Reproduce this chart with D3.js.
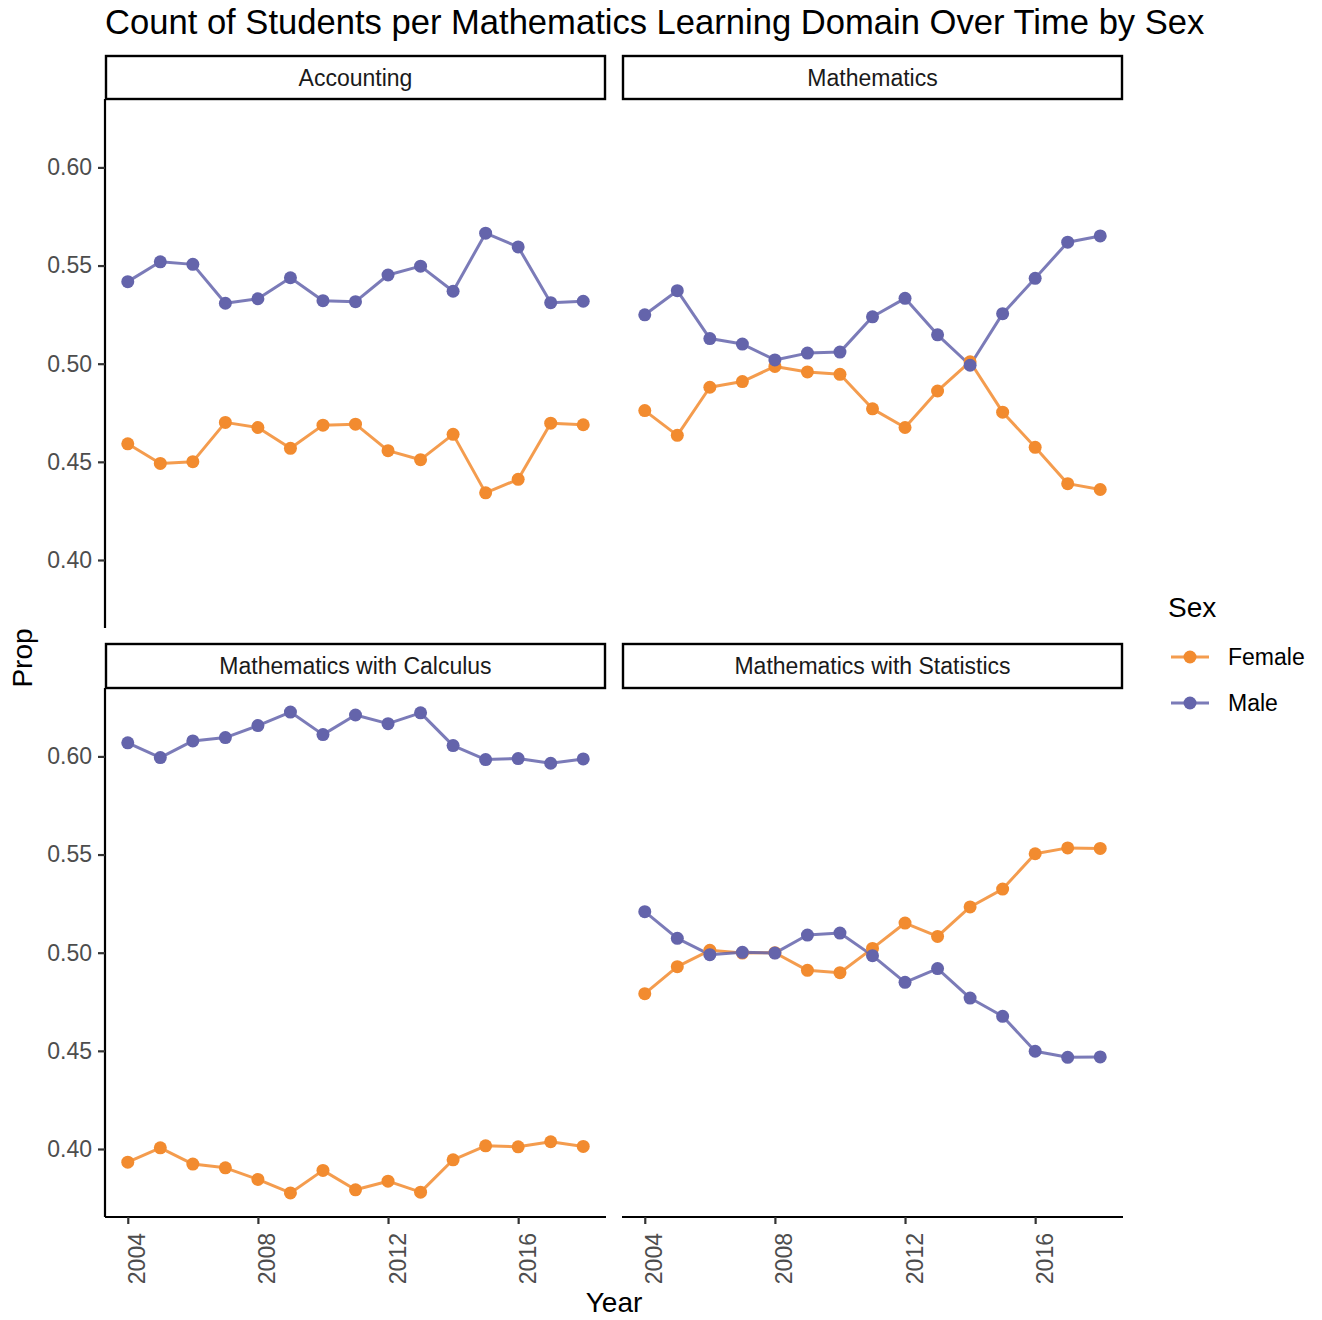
<!DOCTYPE html>
<html>
<head>
<meta charset="utf-8">
<script src="https://cdn.jsdelivr.net/npm/d3@7"></script>
<style>
  html, body { margin: 0; padding: 0; background: #ffffff; }
  svg { display: block; font-family: "Liberation Sans", Arial, Helvetica, sans-serif; }
  .axis path.domain { stroke: #000; stroke-width: 2.2px; }
  .axis .tick line { stroke: #333333; stroke-width: 2.2px; }
  .axis .tick text { fill: #4d4d4d; font-size: 23px; font-family: "Liberation Sans", Arial, sans-serif; }
</style>
</head>
<body>
<div id="chart"></div>
<script>
// ---------------- data ----------------
const years = [2004, 2005, 2006, 2007, 2008, 2009, 2010, 2011, 2012, 2013, 2014, 2015, 2016, 2017, 2018];
const domains = ["Accounting", "Mathematics", "Mathematics with Calculus", "Mathematics with Statistics"];
const sexes = ["Female", "Male"];

const accountingFemale = [0.4592, 0.4492, 0.4501, 0.4701, 0.4675, 0.4569, 0.4687, 0.4692, 0.4557, 0.4511, 0.4640, 0.4342, 0.4411, 0.4697, 0.4689];
const accountingMale   = [0.5418, 0.5519, 0.5506, 0.5308, 0.5331, 0.5438, 0.5321, 0.5316, 0.5452, 0.5497, 0.5369, 0.5665, 0.5595, 0.5311, 0.5318];

const mathematicsFemale = [0.4761, 0.4635, 0.4880, 0.4909, 0.4986, 0.4958, 0.4946, 0.4770, 0.4675, 0.4861, 0.5010, 0.4753, 0.4574, 0.4389, 0.4359];
const mathematicsMale   = [0.5249, 0.5372, 0.5128, 0.5100, 0.5019, 0.5054, 0.5059, 0.5239, 0.5333, 0.5147, 0.4992, 0.5255, 0.5435, 0.5619, 0.5651];

const calculusFemale = [0.3933, 0.4006, 0.3923, 0.3904, 0.3845, 0.3776, 0.3891, 0.3792, 0.3836, 0.3780, 0.3945, 0.4016, 0.4011, 0.4037, 0.4013];
const calculusMale   = [0.6069, 0.5994, 0.6079, 0.6096, 0.6157, 0.6226, 0.6111, 0.6211, 0.6167, 0.6222, 0.6055, 0.5984, 0.5989, 0.5965, 0.5987];

const statisticsFemale = [0.4791, 0.4929, 0.5012, 0.4998, 0.5000, 0.4910, 0.4898, 0.5022, 0.5151, 0.5083, 0.5233, 0.5324, 0.5504, 0.5534, 0.5531];
const statisticsMale   = [0.5209, 0.5073, 0.4990, 0.5002, 0.4998, 0.5090, 0.5100, 0.4985, 0.4849, 0.4919, 0.4769, 0.4676, 0.4498, 0.4467, 0.4469];

const yTicks = [0.40, 0.45, 0.50, 0.55, 0.60];
const xTicks = [2004, 2008, 2012, 2016];

const titleText = "Count of Students per Mathematics Learning Domain Over Time by Sex";
const xTitle = "Year";
const yTitle = "Prop";
const legendTitle = "Sex";

// ---------------- styles / layout ----------------
const sexColors = { Female: "#F28B2F", Male: "#6464AB" };
const W = 1322, H = 1320;

const seriesByDomain = {
  "Accounting": { Female: accountingFemale, Male: accountingMale },
  "Mathematics": { Female: mathematicsFemale, Male: mathematicsMale },
  "Mathematics with Calculus": { Female: calculusFemale, Male: calculusMale },
  "Mathematics with Statistics": { Female: statisticsFemale, Male: statisticsMale }
};

const colX = [[105, 606], [622, 1123]];
const rowY = [{ strip: [56, 99], panel: [99, 628] }, { strip: [644, 688], panel: [688, 1217] }];

const svg = d3.select("#chart").append("svg").attr("width", W).attr("height", H);

// shared scales (ggplot-like 5% expansion)
const allVals = [].concat(...domains.map(d => sexes.map(s => seriesByDomain[d][s])).flat());
const [vmin, vmax] = d3.extent(allVals);
const vpad = (vmax - vmin) * 0.05;
const [xmin, xmax] = d3.extent(years);
const xpad = (xmax - xmin) * 0.05;

// title
svg.append("text").attr("x", 105).attr("y", 34)
  .attr("font-size", 34.6).attr("fill", "#000").text(titleText);

domains.forEach((dom, i) => {
  const col = i % 2, row = Math.floor(i / 2);
  const [x0, x1] = colX[col];
  const r = rowY[row];
  const x = d3.scaleLinear().domain([xmin - xpad, xmax + xpad]).range([x0, x1]);
  const y = d3.scaleLinear().domain([vmin - vpad, vmax + vpad]).range([r.panel[1], r.panel[0]]);

  // strip
  svg.append("rect")
    .attr("x", x0 + 1).attr("y", r.strip[0])
    .attr("width", x1 - x0 - 2).attr("height", r.strip[1] - r.strip[0])
    .attr("fill", "#fff").attr("stroke", "#000").attr("stroke-width", 2.4);
  svg.append("text")
    .attr("x", (x0 + x1) / 2).attr("y", (r.strip[0] + r.strip[1]) / 2)
    .attr("text-anchor", "middle").attr("dominant-baseline", "central")
    .attr("font-size", 23).attr("fill", "#1a1a1a").text(dom);

  // y axis on left column
  if (col === 0) {
    const ya = svg.append("g").attr("class", "axis")
      .attr("transform", `translate(${x0},0)`)
      .call(d3.axisLeft(y).tickValues(yTicks).tickFormat(d3.format(".2f")).tickSize(7).tickSizeOuter(0).tickPadding(6));
    ya.select("path.domain").attr("d", `M0,${r.panel[0]}V${r.panel[1]}`);
  }
  // x axis on bottom row
  if (row === 1) {
    const xa = svg.append("g").attr("class", "axis")
      .attr("transform", `translate(0,${r.panel[1]})`)
      .call(d3.axisBottom(x).tickValues(xTicks).tickFormat(d3.format("d")).tickSize(7).tickSizeOuter(0));
    xa.select("path.domain").attr("d", `M${x0},0H${x1}`);
    xa.selectAll(".tick text")
      .attr("transform", "rotate(-90)")
      .attr("text-anchor", "end")
      .attr("x", -16).attr("y", 17).attr("dy", 0);
  }

  const line = d3.line().x((d, k) => x(years[k])).y(d => y(d));
  const g = svg.append("g");
  sexes.forEach(s => {
    g.append("path").datum(seriesByDomain[dom][s])
      .attr("d", line).attr("fill", "none")
      .attr("stroke", sexColors[s]).attr("stroke-opacity", 0.85)
      .attr("stroke-width", 3).attr("stroke-linejoin", "round");
  });
  sexes.forEach(s => {
    g.selectAll(null).data(seriesByDomain[dom][s]).enter().append("circle")
      .attr("cx", (d, k) => x(years[k])).attr("cy", d => y(d))
      .attr("r", 6.5).attr("fill", sexColors[s]);
  });
});

// axis titles
svg.append("text").attr("x", (colX[0][0] + colX[1][1]) / 2).attr("y", 1312)
  .attr("text-anchor", "middle").attr("font-size", 28).attr("fill", "#000").text(xTitle);
svg.append("text")
  .attr("transform", `translate(32,${(rowY[0].panel[0] + rowY[1].panel[1]) / 2}) rotate(-90)`)
  .attr("text-anchor", "middle").attr("font-size", 28).attr("fill", "#000").text(yTitle);

// legend
svg.append("text").attr("x", 1168).attr("y", 617).attr("font-size", 28).attr("fill", "#000").text(legendTitle);
const legY = d3.scalePoint().domain(sexes).range([657, 703]);
sexes.forEach(s => {
  const yy = legY(s);
  svg.append("line").attr("x1", 1171).attr("x2", 1209).attr("y1", yy).attr("y2", yy)
    .attr("stroke", sexColors[s]).attr("stroke-opacity", 0.85).attr("stroke-width", 3);
  svg.append("circle").attr("cx", 1190).attr("cy", yy).attr("r", 6.5).attr("fill", sexColors[s]);
  svg.append("text").attr("x", 1228).attr("y", yy).attr("dominant-baseline", "central")
    .attr("font-size", 23).attr("fill", "#000").text(s);
});
</script>
</body>
</html>
